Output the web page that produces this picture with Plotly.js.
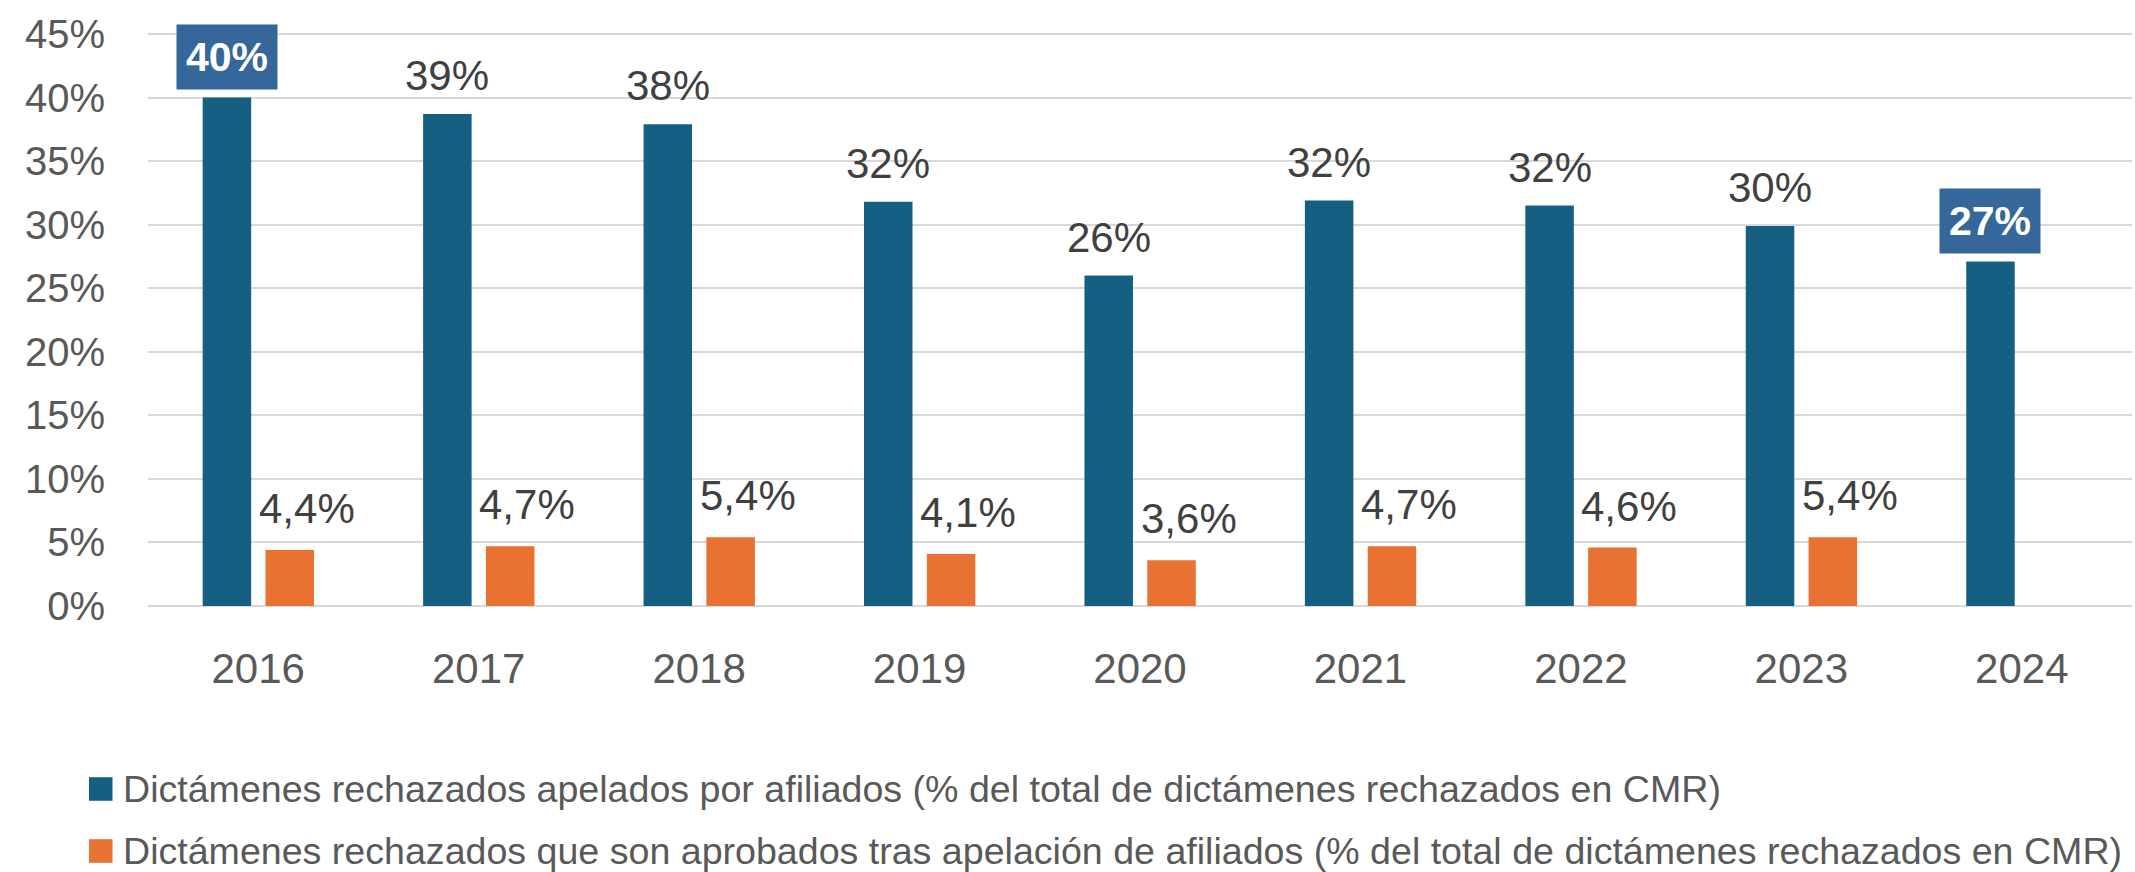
<!DOCTYPE html>
<html>
<head>
<meta charset="utf-8">
<script src="https://cdn.plot.ly/plotly-3.0.1.min.js"></script>
<style>
html, body { margin: 0; padding: 0; background: #ffffff; }
#chart { width: 2135px; height: 872px; }
</style>
</head>
<body>
<div id="chart"></div>
<script>
// ---- Data ----
var years = ['2016', '2017', '2018', '2019', '2020', '2021', '2022', '2023', '2024'];
var apelados = [40.0, 38.7, 37.9, 31.8, 26.0, 31.9, 31.5, 29.9, 27.1];
var aprobados = [4.4, 4.7, 5.4, 4.1, 3.6, 4.7, 4.6, 5.4, null];
var seriesNames = [
  'Dictámenes rechazados apelados por afiliados (% del total de dictámenes rechazados en CMR)',
  'Dictámenes rechazados que son aprobados tras apelación de afiliados (% del total de dictámenes rechazados en CMR)'
];
var highlightedYears = ['2016', '2024'];
var yTicks = [0, 5, 10, 15, 20, 25, 30, 35, 40, 45];
var yTickText = yTicks.map(function (v) { return v + '%'; });

// ---- Styles ----
var BLUE = '#156082';
var ORANGE = '#E97132';
var BOX = '#35679A';
var FONT = '"Liberation Sans", Arial, sans-serif';
var W = 2135, H = 872;
var M = {l: 148, r: 3, t: 33, b: 266};
var plotW = W - M.l - M.r, plotH = H - M.t - M.b;
function px2paperX(px) { return (px - M.l) / plotW; }
function px2paperY(py) { return 1 - (py - M.t) / plotH; }

var barW = 0.22;
var blueOff = -0.252;
var orangeOff = 0.033;
var catPx = plotW / years.length;
var blueCenterShift = (blueOff + barW / 2) * catPx;
var orangeCenterShift = (orangeOff + barW / 2) * catPx;

var traces = [
  {
    type: 'bar', x: years, y: apelados, name: seriesNames[0],
    marker: {color: BLUE}, width: barW, offset: blueOff,
    hoverinfo: 'x+y', showlegend: false
  },
  {
    type: 'bar', x: years, y: aprobados, name: seriesNames[1],
    marker: {color: ORANGE}, width: barW, offset: orangeOff,
    hoverinfo: 'x+y', showlegend: false
  }
];

var annotations = [];
years.forEach(function (yr, i) {
  var v = apelados[i];
  if (v !== null) {
    var txt = Math.round(v) + '%';
    if (highlightedYears.indexOf(yr) >= 0) {
      annotations.push({
        x: i, y: v, xref: 'x', yref: 'y', text: '<b>' + txt + '</b>',
        showarrow: false, xanchor: 'center', yanchor: 'bottom',
        xshift: blueCenterShift, yshift: 8,
        bgcolor: BOX, borderpad: 9,
        font: {family: FONT, size: 41, color: '#ffffff'}
      });
    } else {
      annotations.push({
        x: i, y: v, xref: 'x', yref: 'y', text: txt,
        showarrow: false, xanchor: 'center', yanchor: 'bottom',
        xshift: blueCenterShift, yshift: 13,
        font: {family: FONT, size: 42, color: '#404040'}
      });
    }
  }
  var o = aprobados[i];
  if (o !== null) {
    annotations.push({
      x: i, y: o, xref: 'x', yref: 'y',
      text: o.toFixed(1).replace('.', ',') + '%',
      showarrow: false, xanchor: 'center', yanchor: 'bottom',
      xshift: orangeCenterShift + 17, yshift: 16,
      font: {family: FONT, size: 42, color: '#404040'}
    });
  }
});

// Custom legend (large square swatches)
var legendColors = [BLUE, ORANGE];
var legendCenters = [789, 851];
var shapes = [];
seriesNames.forEach(function (nm, i) {
  var cy = legendCenters[i];
  shapes.push({
    type: 'rect', xref: 'paper', yref: 'paper',
    x0: px2paperX(89), x1: px2paperX(112.5),
    y0: px2paperY(cy + 11.8), y1: px2paperY(cy - 11.8),
    fillcolor: legendColors[i], line: {width: 0}
  });
  annotations.push({
    xref: 'paper', yref: 'paper', x: px2paperX(121), y: px2paperY(cy),
    xanchor: 'left', yanchor: 'middle', showarrow: false, text: nm,
    font: {family: FONT, size: 37.6, color: '#595959'}
  });
});

var layout = {
  width: W, height: H,
  margin: M,
  paper_bgcolor: '#ffffff', plot_bgcolor: '#ffffff',
  barmode: 'group',
  showlegend: false,
  font: {family: FONT, color: '#595959'},
  xaxis: {
    type: 'category', range: [-0.5, 8.5],
    showgrid: false, zeroline: false, showline: false, ticks: '',
    ticklabelstandoff: 34,
    tickfont: {family: FONT, size: 42, color: '#595959'}
  },
  yaxis: {
    range: [0, 45.08], tickmode: 'array', tickvals: yTicks, ticktext: yTickText,
    showgrid: true, gridcolor: '#d9d9d9', gridwidth: 2,
    zeroline: true, zerolinecolor: '#d9d9d9', zerolinewidth: 2,
    showline: false, ticks: '', ticklabelstandoff: 42,
    tickfont: {family: FONT, size: 40, color: '#595959'}
  },
  annotations: annotations,
  shapes: shapes
};

Plotly.newPlot('chart', traces, layout, {displayModeBar: false, staticPlot: true});
</script>
</body>
</html>
